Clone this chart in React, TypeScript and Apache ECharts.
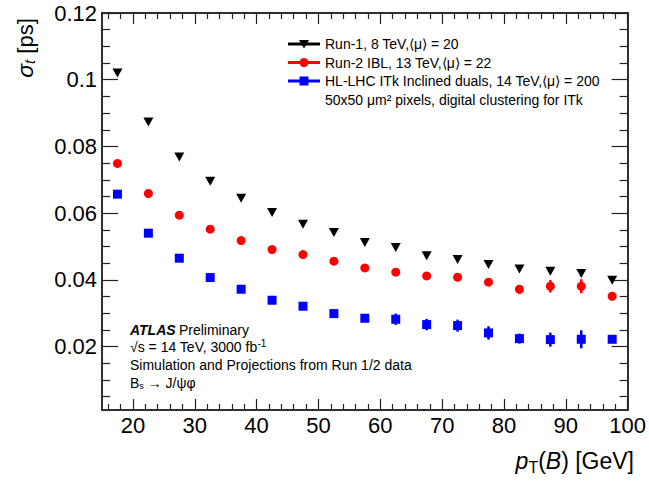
import React, { useEffect, useRef } from "react";
import * as echarts from "echarts";

const ptBins = [17.5, 22.5, 27.5, 32.5, 37.5, 42.5, 47.5, 52.5, 57.5, 62.5, 67.5, 72.5, 77.5, 82.5, 87.5, 92.5, 97.5];
const run1Values = [0.1020, 0.0873, 0.0768, 0.0696, 0.0645, 0.0602, 0.0567, 0.0542, 0.0512, 0.0497, 0.0472, 0.0461, 0.0446, 0.0433, 0.0426, 0.0419, 0.0399];
const run1Errors = [0.0005, 0.0005, 0.0005, 0.0005, 0.0005, 0.0005, 0.0005, 0.0005, 0.0005, 0.0005, 0.0005, 0.0005, 0.0005, 0.0005, 0.0005, 0.0005, 0.0005];
const run2Values = [0.0749, 0.0659, 0.0594, 0.0552, 0.0518, 0.0491, 0.0476, 0.0456, 0.0436, 0.0423, 0.0412, 0.0408, 0.0393, 0.0372, 0.0381, 0.0381, 0.0351];
const run2Errors = [0.0004, 0.0004, 0.0004, 0.0005, 0.0005, 0.0005, 0.0006, 0.0006, 0.0007, 0.0008, 0.0009, 0.0012, 0.0010, 0.0013, 0.0019, 0.0021, 0.0010];
const itkValues = [0.0657, 0.0540, 0.0465, 0.0407, 0.0372, 0.0339, 0.0321, 0.0299, 0.0285, 0.0282, 0.0266, 0.0263, 0.0241, 0.0224, 0.0221, 0.0222, 0.0222];
const itkErrors = [0.0005, 0.0005, 0.0006, 0.0006, 0.0007, 0.0007, 0.0008, 0.0009, 0.0010, 0.0017, 0.0017, 0.0018, 0.0020, 0.0015, 0.0021, 0.0027, 0.0010];

const xMajorTicks = [20, 30, 40, 50, 60, 70, 80, 90, 100];
const xMinorTicks = [16, 18, 22, 24, 26, 28, 32, 34, 36, 38, 42, 44, 46, 48, 52, 54, 56, 58, 62, 64, 66, 68, 72, 74, 76, 78, 82, 84, 86, 88, 92, 94, 96, 98];
const yMajorTicks = [0.02, 0.04, 0.06, 0.08, 0.1, 0.12];
const yMinorTicks = [0.005, 0.01, 0.015, 0.025, 0.03, 0.035, 0.045, 0.05, 0.055, 0.065, 0.07, 0.075, 0.085, 0.09, 0.095, 0.105, 0.11, 0.115];

const legendLabels = [
  "Run-1, 8 TeV,\u27e8\u03bc\u27e9 = 20",
  "Run-2 IBL, 13 TeV,\u27e8\u03bc\u27e9 = 22",
  "HL-LHC ITk Inclined duals, 14 TeV,\u27e8\u03bc\u27e9 = 200",
];
const legendExtra = "50x50 \u03bcm\u00b2 pixels, digital clustering for ITk";

const FONT = "'Liberation Sans', Arial, Helvetica, sans-serif";
const AX = "#222";
const TS = 14;

export default function App() {
  const ref = useRef<HTMLDivElement>(null);
  useEffect(() => {
    if (!ref.current) return;
    const chart = echarts.init(ref.current, undefined, { renderer: "svg" });
    const X0 = 15, X1 = 100, Y0 = 0.001, Y1 = 0.12;

    const mkX = (pos: string, ticks: number[], len: number, labels: boolean) => ({
      type: "value", min: X0, max: X1, position: pos,
      axisLine: { show: true, onZero: false, lineStyle: { color: AX, width: 1.5 } },
      axisTick: { show: true, inside: true, length: len, customValues: ticks, lineStyle: { color: AX, width: 1.2 } },
      axisLabel: labels
        ? { show: true, customValues: xMajorTicks, fontSize: 22, color: "#000", fontFamily: FONT, margin: 4 }
        : { show: false },
      splitLine: { show: false },
    });
    const mkY = (pos: string, ticks: number[], len: number, labels: boolean) => ({
      type: "value", min: Y0, max: Y1, position: pos,
      axisLine: { show: true, onZero: false, lineStyle: { color: AX, width: 1.5 } },
      axisTick: { show: true, inside: true, length: len, customValues: ticks, lineStyle: { color: AX, width: 1.2 } },
      axisLabel: labels
        ? {
            show: true, customValues: yMajorTicks, fontSize: 22, color: "#000", fontFamily: FONT, margin: 5,
            formatter: (v: number) => String(+v.toFixed(3)),
          }
        : { show: false },
      splitLine: { show: false },
    });

    const errSeries = (vals: number[], errs: number[], color: string) => ({
      type: "custom",
      xAxisIndex: 0, yAxisIndex: 0,
      data: ptBins.map((x, i) => [x, vals[i], errs[i]]),
      renderItem: (params: any, api: any) => {
        const x = api.value(0), y = api.value(1), e = api.value(2);
        const a = api.coord([x, y + e]);
        const b = api.coord([x, y - e]);
        return {
          type: "line",
          shape: { x1: a[0], y1: a[1], x2: b[0], y2: b[1] },
          style: { stroke: color, lineWidth: 2.5 },
        };
      },
      z: 3,
    });
    const ptSeries = (name: string, vals: number[], color: string, symbol: string, size: any, rot = 0) => ({
      name, type: "scatter", xAxisIndex: 0, yAxisIndex: 0,
      data: ptBins.map((x, i) => [x, vals[i]]),
      symbol, symbolSize: size, symbolRotate: rot,
      itemStyle: { color, opacity: 1 },
      z: 4,
    });

    const legendColors = ["#000000", "#ff0000", "#0000ff"];
    const legendY = [44, 62.5, 81];
    const legendGraphics: any[] = [];
    legendY.forEach((y, i) => {
      legendGraphics.push({ type: "line", shape: { x1: 288, y1: y, x2: 320, y2: y }, style: { stroke: legendColors[i], lineWidth: 3 } });
      legendGraphics.push({
        type: "text", x: 325, y, style: { text: legendLabels[i], font: `${TS}px ${FONT}`, fill: "#000", verticalAlign: "middle" },
      });
    });
    legendGraphics.push({ type: "polygon", shape: { points: [[299, 40], [309, 40], [304, 48.5]] }, style: { fill: "#000" } });
    legendGraphics.push({ type: "circle", shape: { cx: 304, cy: 62.5, r: 4.5 }, style: { fill: "#ff0000" } });
    legendGraphics.push({ type: "rect", shape: { x: 299.5, y: 76.5, width: 9, height: 9 }, style: { fill: "#0000ff" } });
    legendGraphics.push({
      type: "text", x: 325, y: 99.5, style: { text: legendExtra, font: `${TS}px ${FONT}`, fill: "#000", verticalAlign: "middle" },
    });

    const option: any = {
      animation: false,
      backgroundColor: "#ffffff",
      grid: { left: 102, top: 13, width: 529.5, height: 397, containLabel: false },
      xAxis: [
        mkX("bottom", xMajorTicks, 11, true),
        mkX("bottom", xMinorTicks, 6, false),
        mkX("top", xMajorTicks, 11, false),
        mkX("top", xMinorTicks, 6, false),
      ],
      yAxis: [
        mkY("left", yMajorTicks, 16, true),
        mkY("left", yMinorTicks, 8, false),
        mkY("right", yMajorTicks, 16, false),
        mkY("right", yMinorTicks, 8, false),
      ],
      series: [
        errSeries(run1Values, run1Errors, "#000000"),
        errSeries(run2Values, run2Errors, "#ff0000"),
        errSeries(itkValues, itkErrors, "#0000ff"),
        ptSeries("Run-1", run1Values, "#000000", "triangle", [10, 9], 180),
        ptSeries("Run-2 IBL", run2Values, "#ff0000", "circle", 9),
        ptSeries("HL-LHC ITk", itkValues, "#0000ff", "rect", 9),
      ],
      graphic: [
        ...legendGraphics,
        {
          type: "text", x: 25, y: 48, rotation: Math.PI / 2,
          style: {
            text: "{g|\u03c3}{s|t}{n| [ps]}",
            align: "center", verticalAlign: "middle",
            rich: {
              g: { fontSize: 23, fontStyle: "italic", fontFamily: FONT, fill: "#000" },
              s: { fontSize: 15, fontStyle: "italic", fontFamily: FONT, fill: "#000", padding: [8, 0, 0, 0] },
              n: { fontSize: 22, fontFamily: FONT, fill: "#000" },
            },
          },
        },
        {
          type: "text", x: 634, y: 461,
          style: {
            text: "{p|p}{s|T}{n|(}{p|B}{n|) [GeV]}",
            align: "right", verticalAlign: "middle",
            rich: {
              p: { fontSize: 23, fontStyle: "italic", fontFamily: FONT, fill: "#000" },
              s: { fontSize: 16, fontFamily: FONT, fill: "#000", padding: [12, 0, 0, 0] },
              n: { fontSize: 23, fontFamily: FONT, fill: "#000" },
            },
          },
        },
        {
          type: "text", x: 130, y: 330,
          style: {
            text: "{a|ATLAS} {n|Preliminary}", verticalAlign: "middle",
            rich: {
              a: { fontSize: TS, fontWeight: "bold", fontStyle: "italic", fontFamily: FONT, fill: "#000" },
              n: { fontSize: TS, fontFamily: FONT, fill: "#000" },
            },
          },
        },
        {
          type: "text", x: 130, y: 347,
          style: {
            text: "{n|\u221as = 14 TeV, 3000 fb}{u|-1}", verticalAlign: "middle",
            rich: {
              n: { fontSize: TS, fontFamily: FONT, fill: "#000" },
              u: { fontSize: 10, fontFamily: FONT, fill: "#000", padding: [0, 0, 7, 0] },
            },
          },
        },
        {
          type: "text", x: 130, y: 365,
          style: { text: "Simulation and Projections from Run 1/2 data", font: `${TS}px ${FONT}`, fill: "#000", verticalAlign: "middle" },
        },
        {
          type: "text", x: 130, y: 383,
          style: {
            text: "{n|B}{d|s}{n| \u2192 J/\u03c8\u03c6}", verticalAlign: "middle",
            rich: {
              n: { fontSize: TS, fontFamily: FONT, fill: "#000" },
              d: { fontSize: 9, fontFamily: FONT, fill: "#000", padding: [6, 0, 0, 0] },
            },
          },
        },
      ],
    };
    chart.setOption(option);
    return () => chart.dispose();
  }, []);
  return <div ref={ref} style={{ position: "fixed", left: 0, top: 0, width: 649, height: 481 }} />;
}
